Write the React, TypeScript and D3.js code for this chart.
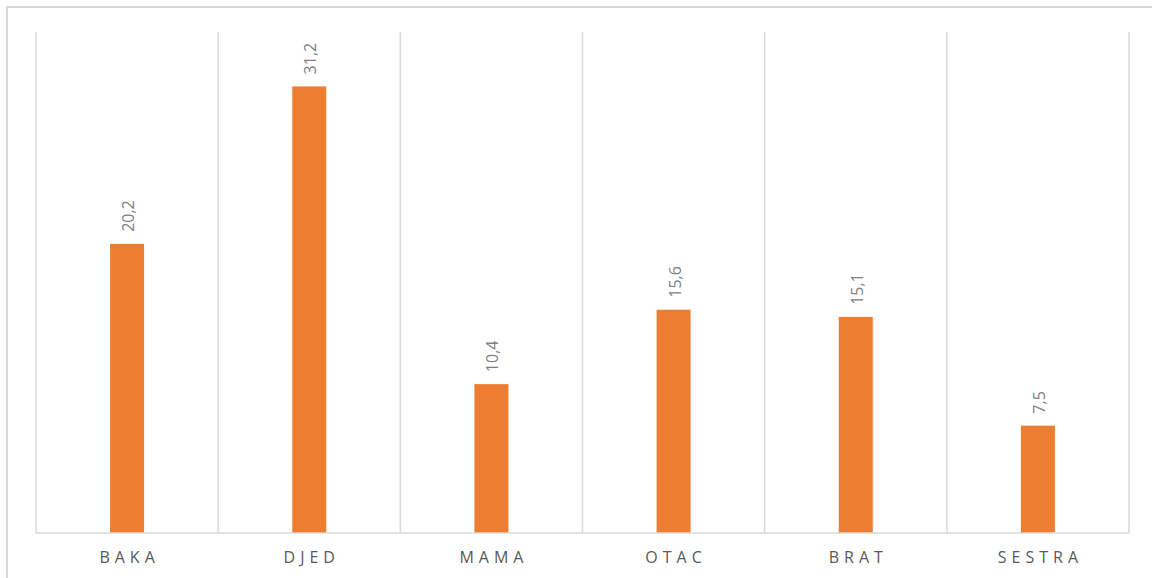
import React from "react";
import * as d3 from "d3";

const categories = ["BAKA", "DJED", "MAMA", "OTAC", "BRAT", "SESTRA"];
const values = [20.2, 31.2, 10.4, 15.6, 15.1, 7.5];
const yMax = 35;

const W = 1152;
const H = 578;
const margin = { left: 36, right: 23, top: 32, bottom: 45 };

export default function App() {
  const x = d3
    .scaleBand<string>()
    .domain(categories)
    .range([margin.left, W - margin.right])
    .paddingInner(0)
    .paddingOuter(0);
  const y = d3.scaleLinear().domain([0, yMax]).range([H - margin.bottom, margin.top]);
  const bw = 34;
  const fmt = (v: number) => v.toFixed(1).replace(".", ",");
  const bounds = categories.map((c) => x(c)!).concat([x(categories[categories.length - 1])! + x.bandwidth()]);
  return (
    <svg
      width={W}
      height={H}
      style={{ position: "absolute", left: 0, top: 0, background: "#fff" }}
      fontFamily="'Open Sans', 'Noto Sans', sans-serif"
    >
      <rect x={7} y={7} width={W - 5} height={H} fill="#fff" stroke="#d9d9d9" strokeWidth={2} />
      {bounds.map((b, i) => (
        <line key={i} x1={b} x2={b} y1={margin.top} y2={y(0)} stroke="#d9d9d9" strokeWidth={1.5} />
      ))}
      {categories.map((c, i) => {
        const cx = x(c)! + x.bandwidth() / 2;
        return (
          <g key={c}>
            <rect x={cx - bw / 2} y={y(values[i])} width={bw} height={y(0) - y(values[i])} fill="#ED7D31" />
            <text
              transform={`translate(${cx + 7},${y(values[i]) - 12}) rotate(-90)`}
              fontSize={16}
              fill="#808080"
              textAnchor="start"
            >
              {fmt(values[i])}
            </text>
            <text
              x={cx + 2.5}
              y={563}
              fontSize={16}
              letterSpacing={5}
              fill="#595959"
              textAnchor="middle"
            >
              {c}
            </text>
          </g>
        );
      })}
      <line x1={margin.left} x2={W - margin.right} y1={y(0)} y2={y(0)} stroke="#d9d9d9" strokeWidth={1.5} />
    </svg>
  );
}
